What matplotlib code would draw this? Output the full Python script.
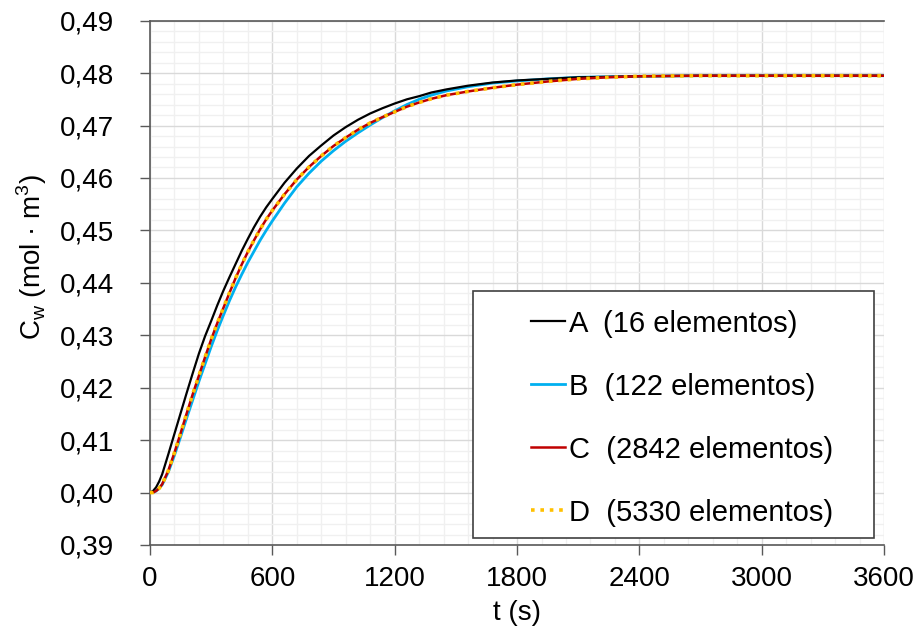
import matplotlib
matplotlib.use("Agg")
import matplotlib.pyplot as plt
from matplotlib.patches import Rectangle
from matplotlib.ticker import MultipleLocator, FuncFormatter

plt.rcParams['font.family'] = ['Liberation Sans', 'DejaVu Sans']

# Concentration in water over time for four mesh refinements
t_a = [0, 15, 30, 45, 60, 90, 120, 150, 180, 210, 240, 270, 300, 330, 360, 390,
       420, 450, 480, 510, 540, 570, 600, 660, 720, 780, 840, 900, 960, 1020,
       1080, 1140, 1200, 1260, 1320, 1380, 1455, 1560, 1680, 1800, 1950, 2100,
       2400, 2700, 3000, 3600]
c_a = [0.4000, 0.4003, 0.4010, 0.4021, 0.4035, 0.4073, 0.4112, 0.4151, 0.4190,
       0.4228, 0.4265, 0.4298, 0.4327, 0.4357, 0.4385, 0.4411, 0.4436, 0.4461,
       0.4484, 0.4506, 0.4526, 0.4544, 0.4560, 0.4591, 0.4618, 0.4642, 0.4662,
       0.4681, 0.4697, 0.4711, 0.4723, 0.4733, 0.4742, 0.4750, 0.4756, 0.4763,
       0.4769, 0.4776, 0.4782, 0.4786, 0.4789, 0.4792, 0.4794, 0.4795, 0.4795,
       0.4795]

t_b = [0, 15, 30, 45, 60, 90, 120, 150, 180, 210, 240, 270, 300, 330, 360, 390,
       420, 450, 480, 510, 540, 570, 600, 660, 720, 780, 840, 900, 960, 1020,
       1080, 1140, 1200, 1260, 1320, 1380, 1455, 1560, 1680, 1800, 1950, 2100,
       2400, 2700, 3000, 3600]
c_b = [0.4000, 0.4000, 0.4003, 0.4008, 0.4015, 0.4039, 0.4071, 0.4106, 0.4142,
       0.4177, 0.4212, 0.4245, 0.4278, 0.4309, 0.4338, 0.4366, 0.4392, 0.4416,
       0.4439, 0.4460, 0.4481, 0.4500, 0.4518, 0.4552, 0.4583, 0.4609, 0.4632,
       0.4652, 0.4670, 0.4686, 0.4701, 0.4715, 0.4728, 0.4740, 0.4750, 0.4758,
       0.4766, 0.4774, 0.4781, 0.4785, 0.4789, 0.4792, 0.4794, 0.4795, 0.4795,
       0.4795]

t_c = [0, 15, 30, 45, 60, 90, 120, 150, 180, 210, 240, 270, 300, 330, 360, 390,
       420, 450, 480, 510, 540, 570, 600, 660, 720, 780, 840, 900, 960, 1020,
       1080, 1140, 1200, 1260, 1320, 1380, 1455, 1560, 1680, 1800, 1950, 2100,
       2250, 2400, 2700, 3000, 3600]
c_c = [0.4000, 0.4000, 0.4003, 0.4008, 0.4016, 0.4042, 0.4076, 0.4113, 0.4151,
       0.4188, 0.4223, 0.4258, 0.4292, 0.4323, 0.4352, 0.4381, 0.4409, 0.4435,
       0.4459, 0.4481, 0.4502, 0.4521, 0.4538, 0.4569, 0.4597, 0.4621, 0.4642,
       0.4661, 0.4677, 0.4692, 0.4705, 0.4716, 0.4726, 0.4736, 0.4744, 0.4751,
       0.4758, 0.4765, 0.4772, 0.4778, 0.4784, 0.4789, 0.4792, 0.4794, 0.4795,
       0.4795, 0.4795]

t_d = [0, 15, 30, 45, 60, 90, 120, 150, 180, 210, 240, 270, 300, 330, 360, 390,
       420, 450, 480, 510, 540, 570, 600, 660, 720, 780, 840, 900, 960, 1020,
       1080, 1140, 1200, 1260, 1320, 1380, 1455, 1560, 1680, 1800, 1950, 2100,
       2250, 2400, 2700, 3000, 3600]
c_d = [0.4000, 0.4000, 0.4003, 0.4008, 0.4016, 0.4042, 0.4076, 0.4113, 0.4151,
       0.4188, 0.4223, 0.4258, 0.4292, 0.4323, 0.4352, 0.4381, 0.4409, 0.4435,
       0.4459, 0.4481, 0.4502, 0.4521, 0.4538, 0.4569, 0.4597, 0.4621, 0.4642,
       0.4661, 0.4677, 0.4692, 0.4705, 0.4716, 0.4726, 0.4736, 0.4744, 0.4751,
       0.4758, 0.4765, 0.4772, 0.4778, 0.4784, 0.4789, 0.4792, 0.4794, 0.4795,
       0.4795, 0.4795]

labels = ["A  (16 elementos)", "B  (122 elementos)",
          "C  (2842 elementos)", "D  (5330 elementos)"]

fig = plt.figure(figsize=(9.2, 6.34), dpi=100)
ax = fig.add_axes([0.163, 0.1404, 0.798, 0.827])

ax.set_xlim(0, 3600)
ax.set_ylim(0.39, 0.49)
ax.xaxis.set_major_locator(MultipleLocator(600))
ax.xaxis.set_minor_locator(MultipleLocator(120))
ax.yaxis.set_major_locator(MultipleLocator(0.01))
ax.yaxis.set_minor_locator(MultipleLocator(0.002))
ax.yaxis.set_major_formatter(FuncFormatter(lambda v, p: f"{v:.2f}".replace(".", ",")))

ax.grid(which="major", color="#d9d9d9", lw=1.0, zorder=0)
ax.grid(which="minor", color="#f0f0f0", lw=1.0, zorder=0)
ax.set_axisbelow(True)

axis_col = "#595959"
for side in ("left", "bottom", "top"):
    ax.spines[side].set_color(axis_col)
    ax.spines[side].set_linewidth(1.2)
ax.spines["right"].set_visible(False)

ax.tick_params(which="major", direction="out", length=7, width=1.0,
               color=axis_col, labelsize=20, labelcolor="black")
ax.tick_params(axis="y", pad=19)
ax.tick_params(axis="x", pad=8)
ax.tick_params(which="minor", length=0)

ln_b, = ax.plot(t_b, c_b, color="#00b0f0", lw=2.0, zorder=3)
ln_a, = ax.plot(t_a, c_a, color="black", lw=1.6, zorder=4)
ln_c, = ax.plot(t_c, c_c, color="#c00000", lw=1.8, zorder=5)
ln_d, = ax.plot(t_d, c_d, color="#ffc000", lw=2.6, linestyle=(0, (1.0, 1.6)),
                zorder=6)

ax.set_xlabel("t (s)", fontsize=20, labelpad=6)
ax.set_ylabel(r"C$_\mathregular{w}$ (mol · m$^\mathregular{3}$)", fontsize=20)
ax.yaxis.set_label_coords(-0.137, 0.55)

# Legend frame drawn as its own box, entries placed inside it
ax.add_patch(Rectangle((0.440, 0.0133), 0.546, 0.471, transform=ax.transAxes,
                       facecolor="white", edgecolor="#404040", lw=1.2,
                       zorder=7))
leg = ax.legend([ln_a, ln_b, ln_c, ln_d], labels,
                loc="upper left", bbox_to_anchor=(0.519, 0.449),
                fontsize=21, frameon=False,
                handlelength=1.15, handletextpad=0.15, labelspacing=1.2,
                borderpad=0.0, borderaxespad=0.0)
leg.set_zorder(8)

fig.savefig("out.png", dpi=100)
